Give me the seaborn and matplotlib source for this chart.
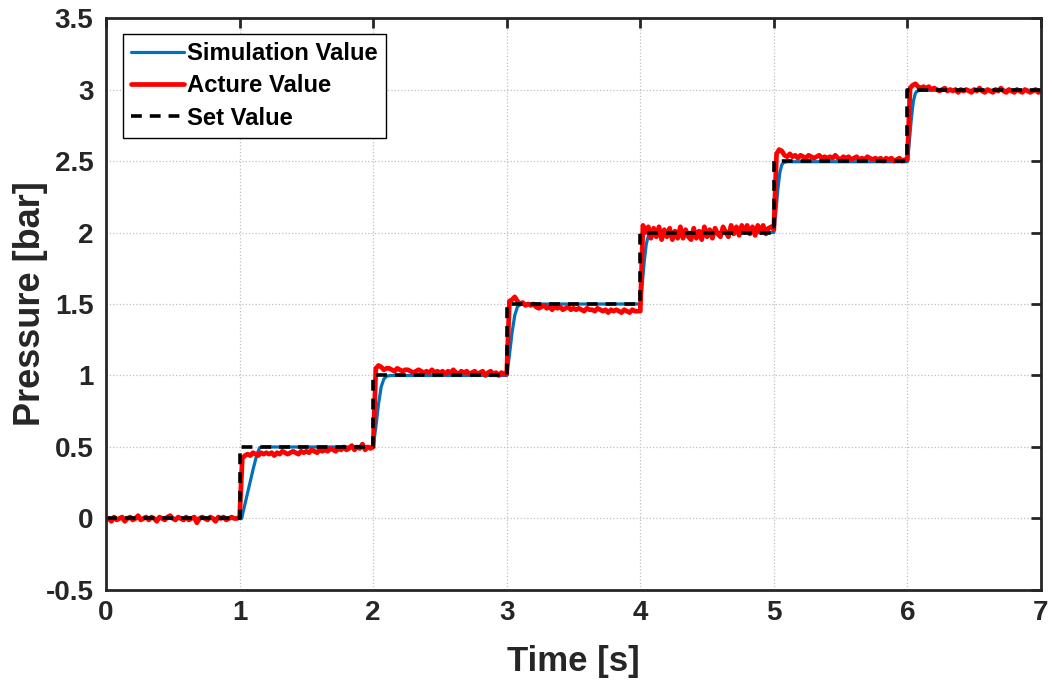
import numpy as np
import pandas as pd
import matplotlib
matplotlib.use("Agg")
import matplotlib.pyplot as plt
import seaborn as sns

# ---- data -------------------------------------------------------------
# set-point levels held on each one-second interval [k, k+1)
set_levels = [0.0, 0.5, 1.0, 1.5, 2.0, 2.5, 3.0]

# simulated pressure response (time [s], pressure [bar])
sim_time = [0.00, 1.00, 1.015, 1.04, 1.07, 1.10, 1.13, 1.15, 1.17,
            2.00, 2.02, 2.04, 2.06, 2.08, 2.10, 2.13,
            3.00, 3.02, 3.04, 3.06, 3.08, 3.10, 3.13,
            4.00, 4.015, 4.03, 4.045, 4.06, 4.075, 4.10,
            5.00, 5.015, 5.03, 5.045, 5.06, 5.075, 5.10,
            6.00, 6.015, 6.03, 6.045, 6.06, 6.075, 6.10, 7.00]
sim_value = [0.00, 0.00, 0.00, 0.10, 0.22, 0.34, 0.45, 0.495, 0.50,
             0.50, 0.64, 0.80, 0.92, 0.975, 0.995, 1.00,
             1.00, 1.14, 1.30, 1.42, 1.48, 1.497, 1.50,
             1.50, 1.64, 1.80, 1.92, 1.975, 1.995, 2.00,
             2.00, 2.14, 2.30, 2.42, 2.475, 2.49, 2.495,
             2.495, 2.64, 2.80, 2.92, 2.975, 2.99, 2.995, 2.995]

# measured pressure, sampled every 0.02 s, one list per second
actual_0 = [-0.01, 0.00, -0.02, 0.01, -0.01, 0.00, 0.01, -0.02, 0.00, 0.01,
            -0.01, 0.00, 0.02, -0.01, 0.00, 0.01, -0.01, 0.01, 0.00, -0.02,
            0.01, 0.00, -0.01, 0.01, 0.02, 0.00, -0.01, 0.01, 0.00, -0.01,
            0.01, -0.01, 0.00, 0.01, -0.03, 0.00, 0.01, 0.00, -0.01, 0.01,
            0.00, -0.02, 0.01, 0.00, 0.01, -0.01, 0.00, 0.01, 0.00, 0.00]
actual_1 = [0.01, 0.42, 0.44, 0.45, 0.44, 0.46, 0.45, 0.44, 0.46, 0.45,
            0.46, 0.45, 0.46, 0.44, 0.46, 0.45, 0.47, 0.46, 0.45, 0.46,
            0.47, 0.46, 0.45, 0.47, 0.46, 0.47, 0.46, 0.48, 0.47, 0.46,
            0.48, 0.47, 0.48, 0.47, 0.49, 0.48, 0.47, 0.49, 0.48, 0.50,
            0.48, 0.49, 0.51, 0.48, 0.50, 0.49, 0.52, 0.48, 0.50, 0.49]
actual_2 = [0.50, 1.05, 1.07, 1.06, 1.04, 1.05, 1.05, 1.04, 1.03, 1.05,
            1.04, 1.03, 1.04, 1.04, 1.03, 1.02, 1.03, 1.04, 1.03, 1.02,
            1.03, 1.02, 1.04, 1.02, 1.03, 1.02, 1.03, 1.01, 1.03, 1.02,
            1.04, 1.02, 1.01, 1.03, 1.02, 1.03, 1.01, 1.02, 1.03, 1.01,
            1.02, 1.03, 1.00, 1.02, 1.03, 1.01, 1.02, 1.00, 1.02, 1.01]
actual_3 = [1.01, 1.52, 1.53, 1.55, 1.52, 1.50, 1.51, 1.49, 1.50, 1.49,
            1.50, 1.48, 1.47, 1.48, 1.49, 1.47, 1.48, 1.46, 1.48, 1.47,
            1.48, 1.46, 1.47, 1.48, 1.46, 1.47, 1.46, 1.47, 1.46, 1.45,
            1.47, 1.46, 1.46, 1.45, 1.47, 1.46, 1.45, 1.46, 1.44, 1.46,
            1.45, 1.46, 1.45, 1.44, 1.46, 1.45, 1.44, 1.46, 1.45, 1.45]
actual_4 = [1.45, 2.05, 2.00, 2.04, 1.96, 2.03, 1.97, 2.04, 1.95, 2.02,
            1.97, 2.03, 1.95, 2.01, 1.96, 2.04, 1.96, 2.02, 1.97, 1.95,
            2.03, 1.96, 2.01, 1.95, 2.04, 1.97, 2.02, 1.96, 2.03, 1.99,
            1.97, 2.04, 2.00, 1.97, 2.05, 1.99, 2.04, 1.98, 2.05, 2.00,
            2.05, 1.99, 2.04, 1.98, 2.05, 2.00, 2.05, 1.99, 2.03, 2.04]
actual_5 = [2.02, 2.55, 2.58, 2.57, 2.54, 2.53, 2.55, 2.53, 2.54, 2.52,
            2.54, 2.53, 2.52, 2.54, 2.53, 2.52, 2.53, 2.54, 2.52, 2.53,
            2.52, 2.53, 2.52, 2.54, 2.52, 2.51, 2.53, 2.52, 2.53, 2.51,
            2.52, 2.53, 2.51, 2.52, 2.51, 2.53, 2.52, 2.51, 2.52, 2.51,
            2.52, 2.50, 2.52, 2.51, 2.52, 2.50, 2.51, 2.52, 2.50, 2.51]
actual_6 = [2.51, 3.01, 3.03, 3.04, 3.02, 3.01, 3.02, 3.01, 3.02, 3.00,
            3.01, 3.00, 2.99, 3.00, 3.01, 2.99, 3.00, 2.99, 3.00, 2.98,
            3.00, 2.99, 3.00, 2.99, 2.98, 3.00, 2.99, 3.01, 2.99, 2.98,
            3.00, 2.99, 2.98, 3.00, 2.99, 3.01, 2.99, 2.98, 3.00, 2.99,
            2.98, 3.00, 2.99, 2.98, 3.00, 2.99, 2.98, 2.99, 3.00, 2.98]
actual_end = [2.99]

x_ticks = [0, 1, 2, 3, 4, 5, 6, 7]
y_ticks = [-0.5, 0, 0.5, 1, 1.5, 2, 2.5, 3, 3.5]
y_ticklabels = ["-0.5", "0", "0.5", "1", "1.5", "2", "2.5", "3", "3.5"]

# ---- assemble series --------------------------------------------------
actual_value = (actual_0 + actual_1 + actual_2 + actual_3 + actual_4
                + actual_5 + actual_6 + actual_end)
actual_time = np.round(np.arange(len(actual_value)) * 0.02, 2)

set_time, set_value = [], []
for k, lvl in enumerate(set_levels):
    set_time += [k, k + 1]
    set_value += [lvl, lvl]

# ---- style ------------------------------------------------------------
sns.set_style("white")
plt.rcParams["font.family"] = ["Liberation Sans", "DejaVu Sans"]
plt.rcParams["font.weight"] = "bold"
plt.rcParams["axes.labelweight"] = "bold"

ink = "#262626"

fig = plt.figure(figsize=(10.52, 6.83), dpi=100)
ax = fig.add_axes([0.1008, 0.1362, 0.8887, 0.8374])

sns.lineplot(x=sim_time, y=sim_value, ax=ax, color="#0072BD", linewidth=2.3,
             estimator=None, sort=False, label="Simulation Value")
sns.lineplot(x=actual_time, y=actual_value, ax=ax, color="#FF0000",
             linewidth=3.4, estimator=None, sort=False, label="Acture Value")
sns.lineplot(x=set_time, y=set_value, ax=ax, color="black", linewidth=2.6,
             linestyle=(0, (3.0, 2.2)), estimator=None, sort=False,
             label="Set Value")

ax.set_xlim(0, 7)
ax.set_ylim(-0.5, 3.5)
ax.set_xticks(x_ticks)
ax.set_xticklabels([str(v) for v in x_ticks])
ax.set_yticks(y_ticks)
ax.set_yticklabels(y_ticklabels)

ax.grid(True, linestyle=":", color="#c0c0c0", linewidth=0.9)
ax.set_axisbelow(True)

for sp in ax.spines.values():
    sp.set_visible(True)
    sp.set_color(ink)
    sp.set_linewidth(2.0)

ax.tick_params(direction="in", length=7, width=2, top=True, right=True,
               color=ink, labelcolor=ink, labelsize=20)
ax.tick_params(axis="x", pad=7)
ax.tick_params(axis="y", pad=9)
for lab in ax.get_xticklabels() + ax.get_yticklabels():
    lab.set_fontweight("bold")

ax.set_xlabel("Time [s]", fontsize=25, fontweight="bold", color=ink,
              labelpad=14)
ax.set_ylabel("Pressure [bar]", fontsize=26, fontweight="bold", color=ink)
ax.yaxis.set_label_coords(-0.062, 0.5)

leg = ax.legend(loc="upper left", bbox_to_anchor=(0.018, 0.972),
                borderaxespad=0, fancybox=False, framealpha=1,
                edgecolor="black", handlelength=2.2,
                handletextpad=0.15, labelspacing=0.38, borderpad=0.35,
                prop={"weight": "bold", "size": 17.2})
leg.get_frame().set_linewidth(1.0)
for t in leg.get_texts():
    t.set_color("black")

fig.savefig("out.png", dpi=100)
